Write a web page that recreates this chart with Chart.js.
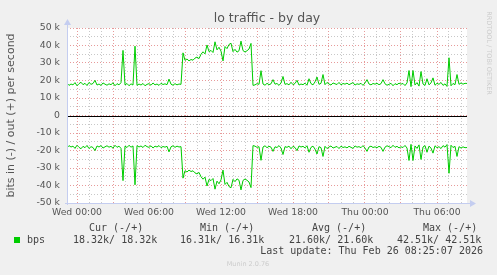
<!DOCTYPE html>
<html>
<head>
<meta charset="utf-8">
<script src="https://cdn.jsdelivr.net/npm/chart.js@4/dist/chart.umd.min.js"></script>
<style>
  html, body { margin: 0; padding: 0; background: #f0f0f0; }
  canvas { display: block; }
</style>
</head>
<body>
<canvas id="myChart" width="497" height="275"></canvas>
<script>
// lo traffic - by day (munin), values in k bits/s, one sample every 10 min from Tue 23:10
const startHour = -50 / 60;
const stepHour = 10 / 60;
const bitsOut = [
	18.5, 17.2, 18.0, 17.5, 18.8, 17.0, 18.2, 19.0, 17.6, 18.4,
	17.1, 18.9, 17.8, 18.3, 20.1, 17.4, 18.0, 17.2, 18.6, 17.9,
	17.3, 18.1, 17.6, 18.7, 17.0, 18.2, 17.5, 18.8, 37.2, 17.5,
	18.3, 17.0, 18.1, 17.4, 39.6, 17.2, 18.0, 17.4, 18.3, 17.0,
	17.8, 18.2, 17.3, 18.6, 17.5, 18.0, 17.2, 18.4, 17.7, 18.1,
	17.6, 20.8, 17.9, 17.3, 18.2, 17.5, 18.0, 17.8, 35.8, 31.5,
	32.3, 31.2, 32.0, 31.6, 32.8, 33.4, 32.5, 35.0, 36.4, 35.2,
	40.3, 36.5, 37.2, 36.0, 42.1, 37.5, 39.0, 36.8, 31.2, 39.4,
	38.2, 40.6, 41.3, 36.5, 37.8, 36.2, 37.0, 42.5, 37.1, 36.3,
	37.0, 38.0, 41.2, 17.2, 17.5, 18.2, 17.8, 25.6, 18.0, 17.3,
	18.4, 17.6, 18.1, 20.5, 17.9, 18.3, 17.2, 18.6, 22.3, 17.8,
	18.2, 17.5, 19.0, 17.6, 18.3, 20.1, 17.4, 18.0, 17.6, 18.5,
	17.3, 21.0, 18.2, 17.5, 19.2, 22.0, 17.8, 18.4, 23.4, 17.6,
	18.9, 18.0, 17.4, 18.6, 18.1, 17.7, 18.9, 17.5, 18.3, 17.9,
	18.5, 17.6, 18.2, 18.8, 17.4, 18.1, 17.8, 18.4, 17.2, 18.6,
	20.5, 18.0, 17.5, 18.3, 17.9, 18.4, 17.6, 18.2, 20.5, 18.1,
	17.3, 17.8, 18.4, 17.0, 18.2, 17.6, 18.5, 17.9, 18.3, 17.1,
	18.6, 25.7, 16.5, 25.7, 17.4, 18.8, 16.8, 25.1, 18.0, 17.2,
	21.0, 17.5, 18.6, 21.5, 17.3, 18.4, 17.8, 18.9, 17.2, 18.1,
	16.6, 33.0, 17.0, 18.3, 17.6, 23.4, 17.8, 18.6, 17.9, 18.4,
	18.3
];
// loopback: in == out, munin draws "in" below zero
const bitsIn = bitsOut.map(v => -v);

const xTickLabels = ["Wed 00:00", "Wed 06:00", "Wed 12:00", "Wed 18:00", "Thu 00:00", "Thu 06:00"];
const legendHeaders = ["Cur (-/+)", "Min (-/+)", "Avg (-/+)", "Max (-/+)"];
const legendValues = ["18.32k/ 18.32k", "16.31k/ 16.31k", "21.60k/ 21.60k", "42.51k/ 42.51k"];
const lastUpdate = "Last update: Thu Feb 26 08:25:07 2026";

const GREEN = "#00cc00";
const toPoints = arr => arr.map((v, i) => ({ x: startHour + i * stepHour, y: v }));

// fondo, textos y ejes al estilo rrdtool
const muninPlugin = {
	id: "munin",
	beforeDraw(chart) {
		const c = chart.ctx, a = chart.chartArea;
		c.save();
		c.fillStyle = "#f0f0f0";
		c.fillRect(0, 0, chart.width, chart.height);
		c.fillStyle = "#ffffff";
		c.fillRect(a.left, a.top, a.right - a.left, a.bottom - a.top);
		c.restore();
	},
	afterDraw(chart) {
		const c = chart.ctx, a = chart.chartArea;
		const y0 = Math.round(chart.scales.y.getPixelForValue(0)) + 0.5;
		c.save();
		// zero line
		c.strokeStyle = "#000000";
		c.lineWidth = 1;
		c.beginPath();
		c.moveTo(a.left, y0);
		c.lineTo(a.right, y0);
		c.stroke();
		// axes with arrows
		c.strokeStyle = "#c4cdf0";
		c.fillStyle = "#c4cdf0";
		c.beginPath();
		c.moveTo(a.left + 0.5, a.bottom + 2);
		c.lineTo(a.left + 0.5, a.top - 4);
		c.moveTo(a.left - 2, Math.round(a.bottom) + 0.5);
		c.lineTo(a.right + 4, Math.round(a.bottom) + 0.5);
		c.stroke();
		c.beginPath();
		c.moveTo(a.left - 3, a.top - 3);
		c.lineTo(a.left + 4, a.top - 3);
		c.lineTo(a.left + 0.5, a.top - 9);
		c.closePath();
		c.fill();
		c.beginPath();
		c.moveTo(a.right + 3, a.bottom - 3);
		c.lineTo(a.right + 3, a.bottom + 4);
		c.lineTo(a.right + 9, a.bottom + 0.5);
		c.closePath();
		c.fill();

		// title
		c.fillStyle = "#555555";
		c.font = "12.5px 'DejaVu Sans'";
		c.textAlign = "center";
		c.textBaseline = "middle";
		c.fillText("lo traffic - by day", (a.left + a.right) / 2, 19);

		// y title
		c.save();
		c.translate(11, (a.top + a.bottom) / 2);
		c.rotate(-Math.PI / 2);
		c.font = "11px 'DejaVu Sans'";
		c.fillText("bits in (-) / out (+) per second", 0, 0);
		c.restore();

		// watermark
		c.save();
		c.translate(489, 53);
		c.rotate(Math.PI / 2);
		c.fillStyle = "#cccccc";
		c.font = "6.5px 'DejaVu Sans'";
		c.fillText("RRDTOOL / TOBI OETIKER", 0, 0);
		c.restore();

		// legend
		c.fillStyle = GREEN;
		c.fillRect(14, 237, 6, 6);
		c.fillStyle = "#444444";
		c.font = "10px 'DejaVu Sans Mono'";
		c.textAlign = "left";
		const headX = [89, 200, 312, 423];
		const valX = [73, 180, 289, 397];
		legendHeaders.forEach((t, i) => c.fillText(t, headX[i], 228));
		c.fillText("bps", 27, 240);
		legendValues.forEach((t, i) => c.fillText(t, valX[i], 240));
		c.textAlign = "right";
		c.fillText(lastUpdate, 483, 251);
		c.textAlign = "center";
		c.fillStyle = "#cccccc";
		c.font = "6.5px 'DejaVu Sans'";
		c.fillText("Munin 2.0.76", 248, 264);
		c.restore();
	},
};

const hour = v => Math.round(v * 1000) / 1000;

const ctx = document.getElementById("myChart").getContext("2d");
let myChart = new Chart(ctx, {
	type: "line",
	data: {
		datasets: [
			{
				label: "bps out",
				data: toPoints(bitsOut),
				borderColor: GREEN,
				borderWidth: 1,
				pointRadius: 0,
				tension: 0,
			},
			{
				label: "bps in",
				data: toPoints(bitsIn),
				borderColor: GREEN,
				borderWidth: 1,
				pointRadius: 0,
				tension: 0,
			},
		],
	},
	options: {
		responsive: false,
		animation: false,
		layout: { padding: { top: 28, right: 30, bottom: 52, left: 0 } },
		plugins: { legend: { display: false }, tooltip: { enabled: false } },
		scales: {
			x: {
				type: "linear",
				min: startHour,
				max: 32.5,
				afterFit(s) { s.height = 20; },
				border: { display: false, dash: [1, 2] },
				grid: {
					drawTicks: false,
					color: c => (hour(c.tick.value) % 3 === 0 ? "#e79a9a" : "#c8c8c8"),
				},
				ticks: {
					stepSize: 1,
					includeBounds: false,
					autoSkip: false,
					maxRotation: 0,
					padding: 4,
					color: "#555555",
					font: { family: "DejaVu Sans", size: 9.3 },
					callback: v => (hour(v) % 6 === 0 ? xTickLabels[hour(v) / 6] : ""),
				},
			},
			y: {
				min: -50,
				max: 50,
				afterFit(s) { s.width = 67; },
				border: { display: false, dash: [1, 2] },
				grid: {
					drawTicks: false,
					color: c => (c.tick.value % 10 === 0 ? "#e79a9a" : "#c8c8c8"),
				},
				ticks: {
					stepSize: 5,
					autoSkip: false,
					padding: 7,
					color: "#555555",
					font: { family: "DejaVu Sans", size: 9.3 },
					callback: v => (v === 0 ? "0" : v % 10 === 0 ? v + " k" : ""),
				},
			},
		},
	},
	plugins: [muninPlugin],
});
</script>
</body>
</html>
